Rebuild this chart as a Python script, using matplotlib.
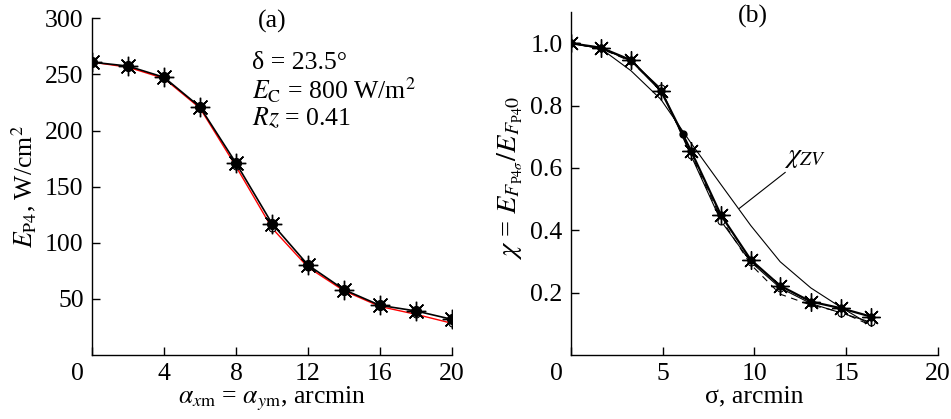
import matplotlib
matplotlib.use("Agg")
import matplotlib.pyplot as plt
import matplotlib.transforms as mtransforms

plt.rcParams["font.family"] = ["Liberation Serif", "DejaVu Serif"]
plt.rcParams["mathtext.fontset"] = "stix"
plt.rcParams["font.size"] = 18.5

# ---------------- data, panel (a) ----------------
alpha_m = [0, 2, 4, 6, 8, 10, 12, 14, 16, 18, 20]
ep4_black = [261, 257.5, 247.5, 221, 171, 117, 80, 58, 44, 39, 31.5]
ep4_red = [261, 256.5, 246.5, 220, 168, 113, 78, 57, 43, 36, 28]

# ---------------- data, panel (b) ----------------
sigma = [0, 1.63, 3.27, 4.9, 6.54, 8.17, 9.8, 11.4, 13.07, 14.7, 16.34]
chi_star = [1.0, 0.986, 0.946, 0.848, 0.655, 0.449, 0.305, 0.222, 0.171, 0.150, 0.123]
chi_open = [1.0, 0.984, 0.944, 0.855, 0.640, 0.430, 0.298, 0.215, 0.165, 0.135, 0.105]
chi_dash = [1.0, 0.983, 0.942, 0.850, 0.645, 0.438, 0.290, 0.195, 0.160, 0.138, 0.095]
chi_zv = [1.0, 0.983, 0.912, 0.820, 0.680, 0.547, 0.415, 0.299, 0.215, 0.153, 0.096]
dot_sigma = [6.1]
dot_chi = [0.709]

fig = plt.figure(figsize=(9.51, 4.19), dpi=100)
ax1 = fig.add_axes([0.0967, 0.1535, 0.3786, 0.8025])
ax2 = fig.add_axes([0.6004, 0.153, 0.3859, 0.818])

star = (8, 2, 0)

# panel (a)
ax1.plot(alpha_m, ep4_red, color="red", lw=1.0, marker="o", ms=5,
         mfc="white", mec="black", mew=0.8, zorder=2)
ax1.plot(alpha_m, ep4_black, color="black", lw=1.2, marker="o", ms=7,
         mfc="black", mec="black", zorder=3)
ax1.plot(alpha_m, ep4_black, ls="none", marker=star, ms=14, mec="black",
         mew=1.0, zorder=4)

ax1.set_xlim(0, 20)
ax1.set_ylim(0, 300)
ax1.set_xticks([0, 4, 8, 12, 16, 20])
ax1.set_yticks([50, 100, 150, 200, 250, 300])
ax1.set_xlabel(r"$\alpha_{x\mathrm{m}}$ = $\alpha_{y\mathrm{m}}$, arcmin", labelpad=0)
ax1.set_ylabel(r"$E_{\mathrm{P4}}$, W/cm$^2$")
ax1.yaxis.set_label_coords(-0.15, 0.5)
ax1.text(10, 297, "(a)", ha="center", va="center")
ax1.text(8.9, 260, "δ = 23.5°", ha="left", va="center")
ax1.text(8.9, 236, r"$E_{\mathrm{C}}$ = 800 W/m$^2$", ha="left", va="center")
ax1.text(8.9, 211, r"$Rz$ = 0.41", ha="left", va="center")

# panel (b)
ax2.plot(sigma, chi_zv, color="black", lw=0.8, zorder=1)
ax2.plot(sigma, chi_dash, color="black", lw=0.8, ls=(0, (6, 5)), zorder=2)
ax2.plot(sigma, chi_open, color="black", lw=0.8, marker="o", ms=5,
         mfc="white", mec="black", mew=0.8, zorder=2)
ax2.plot(sigma, chi_star, color="black", lw=1.6, marker="o", ms=5,
         mfc="black", mec="black", zorder=3)
ax2.plot(sigma, chi_star, ls="none", marker=star, ms=13, mec="black",
         mew=1.0, zorder=4)
ax2.plot(dot_sigma, dot_chi, ls="none", marker="o", ms=5, color="black", zorder=4)

ax2.set_xlim(0, 20)
ax2.set_ylim(0, 1.1)
ax2.set_xticks([0, 5, 10, 15, 20])
ax2.set_yticks([0.2, 0.4, 0.6, 0.8, 1.0])
ax2.set_yticklabels(["0.2", "0.4", "0.6", "0.8", "1.0"])
ax2.set_xlabel("σ, arcmin", labelpad=0)
ax2.set_ylabel(r"$\chi$ = $E_{F_{\mathrm{P4}\sigma}}/E_{F_{\mathrm{P4}}0}$", fontsize=20.5)
ax2.yaxis.set_label_coords(-0.125, 0.516)
ax2.text(9.9, 1.085, "(b)", ha="center", va="center")
ax2.annotate(r"$\chi_{ZV}$", xy=(9.17, 0.47), xytext=(11.6, 0.635),
             ha="left", va="center", fontsize=20,
             arrowprops=dict(arrowstyle="-", color="black", lw=0.8,
                             shrinkA=0, shrinkB=0))

for ax in (ax1, ax2):
    for side in ("top", "right"):
        ax.spines[side].set_visible(False)
    for side in ("left", "bottom"):
        ax.spines[side].set_linewidth(1.0)
    ax.tick_params(direction="in", length=6, width=1.0, pad=6)
    # origin label "0" sits a little left of the axis
    lbl = ax.get_xticklabels()[0]
    lbl.set_transform(lbl.get_transform() +
                      mtransforms.ScaledTranslation(-0.15, 0, fig.dpi_scale_trans))

fig.savefig("out.png", dpi=100)
